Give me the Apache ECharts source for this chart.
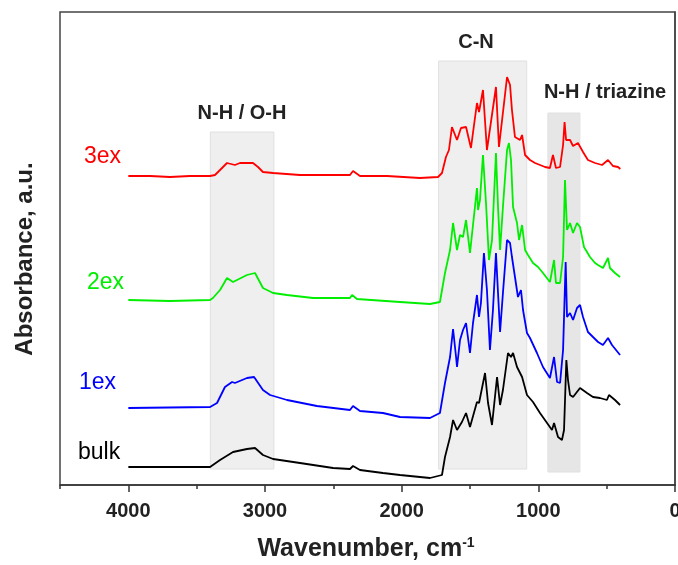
<!DOCTYPE html>
<html>
<head>
<meta charset="utf-8">
<script src="https://cdn.jsdelivr.net/npm/echarts@6/dist/echarts.min.js"></script>
<style>
  html, body { margin: 0; padding: 0; background: #fff; }
  #chart { width: 678px; height: 565px; }
</style>
</head>
<body>
<div id="chart"></div>
<script>
// FTIR spectra, stacked with vertical offsets: [wavenumber (cm-1), absorbance (a.u.)]
const bulk = [
  [4000,0.18],[3402,0.18],[3329,0.25],[3234,0.33],[3132,0.36],[3073,0.37],[3015,0.30],[2941,0.26],
  [2744,0.22],[2502,0.17],[2378,0.16],[2356,0.19],[2305,0.15],[2137,0.12],[2012,0.10],[1793,0.07],
  [1705,0.10],[1683,0.28],[1646,0.48],[1624,0.65],[1595,0.55],[1559,0.63],[1529,0.72],[1500,0.58],
  [1449,0.83],[1434,0.82],[1390,1.12],[1368,0.82],[1339,0.60],[1302,1.08],[1280,0.80],[1259,0.95],
  [1222,1.32],[1200,1.28],[1185,1.32],[1156,1.18],[1119,1.08],[1083,0.90],[1039,0.83],[988,0.72],
  [900,0.55],[885,0.62],[856,0.48],[827,0.45],[812,0.55],[795,1.25],[783,1.05],[768,0.90],
  [746,0.88],[695,0.97],[644,0.92],[600,0.88],[549,0.87],[498,0.85],[483,0.90],[439,0.85],[402,0.80]
];
const ex1 = [
  [4000,0.77],[3402,0.78],[3351,0.82],[3293,0.98],[3241,1.03],[3220,1.02],[3132,1.07],[3080,1.08],
  [3015,0.95],[2963,0.90],[2839,0.85],[2620,0.79],[2378,0.75],[2356,0.79],[2305,0.74],[2137,0.72],
  [2012,0.68],[1793,0.67],[1720,0.72],[1683,1.02],[1646,1.28],[1624,1.56],[1602,1.28],[1595,1.18],
  [1573,1.45],[1551,1.55],[1529,1.62],[1500,1.32],[1478,1.62],[1449,1.90],[1434,1.68],[1420,1.82],
  [1398,2.32],[1376,1.95],[1354,1.35],[1332,1.75],[1310,2.32],[1295,1.92],[1280,1.53],[1259,1.92],
  [1229,2.45],[1207,2.42],[1193,2.28],[1171,2.08],[1149,1.88],[1127,1.95],[1112,1.75],[1083,1.52],
  [1061,1.47],[1010,1.32],[966,1.18],[915,1.07],[885,1.28],[863,1.03],[841,1.02],[819,1.35],
  [800,2.23],[790,1.68],[768,1.72],[746,1.65],[717,1.77],[695,1.80],[673,1.68],[637,1.53],
  [600,1.48],[563,1.43],[527,1.40],[490,1.47],[461,1.40],[402,1.30]
];
const ex2 = [
  [4000,1.85],[3695,1.84],[3402,1.85],[3381,1.87],[3329,1.95],[3278,2.07],[3234,2.03],[3132,2.10],
  [3073,2.12],[3015,1.97],[2941,1.92],[2839,1.90],[2649,1.87],[2378,1.87],[2363,1.90],[2327,1.86],
  [2012,1.83],[1793,1.81],[1720,1.83],[1683,2.12],[1646,2.35],[1624,2.62],[1595,2.35],[1573,2.50],
  [1551,2.48],[1529,2.65],[1500,2.32],[1449,2.97],[1441,2.75],[1427,2.85],[1405,3.30],[1383,2.82],
  [1361,2.25],[1339,2.45],[1310,3.32],[1295,2.78],[1280,2.35],[1259,2.78],[1229,3.35],[1215,3.42],
  [1200,3.25],[1185,2.78],[1156,2.62],[1141,2.45],[1119,2.60],[1097,2.35],[1076,2.30],[1039,2.22],
  [1002,2.18],[966,2.12],[915,2.03],[885,2.25],[871,2.02],[841,2.02],[819,2.28],[805,3.05],
  [790,2.55],[768,2.62],[746,2.52],[717,2.62],[695,2.58],[666,2.38],[622,2.28],[585,2.22],
  [563,2.20],[527,2.17],[490,2.27],[476,2.17],[439,2.12],[402,2.08]
];
const ex3 = [
  [4000,3.09],[3840,3.09],[3695,3.08],[3549,3.09],[3402,3.09],[3366,3.10],[3329,3.15],[3278,3.22],
  [3220,3.20],[3183,3.22],[3088,3.22],[3051,3.18],[3015,3.13],[2941,3.12],[2744,3.10],[2378,3.10],
  [2356,3.14],[2305,3.09],[2107,3.09],[1866,3.07],[1734,3.08],[1705,3.12],[1676,3.28],[1654,3.35],
  [1632,3.58],[1595,3.45],[1566,3.57],[1529,3.58],[1493,3.37],[1449,3.82],[1434,3.73],[1405,3.95],
  [1376,3.35],[1310,3.98],[1288,3.38],[1229,4.08],[1207,4.00],[1193,3.75],[1171,3.48],[1134,3.45],
  [1119,3.50],[1097,3.30],[1061,3.25],[1024,3.22],[951,3.18],[915,3.17],[893,3.30],[871,3.17],
  [841,3.18],[819,3.40],[808,3.63],[797,3.45],[768,3.45],[746,3.39],[710,3.42],[673,3.33],
  [637,3.25],[585,3.22],[534,3.20],[490,3.25],[454,3.19],[417,3.18],[400,3.16]
];

const seriesNames = ['bulk', '1ex', '2ex', '3ex'];
const seriesColors = ['#000000', '#0000ff', '#00ee00', '#ff0000'];
const seriesData = [bulk, ex1, ex2, ex3];

// Shaded assignment bands: [from, to] in cm-1, [bottom, top] in a.u.
const bandNames = ['N-H / O-H', 'C-N', 'N-H / triazine'];
const bandRanges = [[3400, 2935], [1730, 1085], [930, 696]];
const bandHeights = [[0.16, 3.53], [0.16, 4.24], [0.13, 3.72]];
const bandFills = ['#efefef', '#efefef', '#e6e6e6'];

const majorTicks = [0, 1000, 2000, 3000, 4000];
const minorTicks = [500, 1500, 2500, 3500, 4500];

const FONT = '"Liberation Sans", Arial, Helvetica, sans-serif';

const chart = echarts.init(document.getElementById('chart'));

const lineSeries = seriesData.map((d, i) => ({
  name: seriesNames[i],
  type: 'line',
  data: d,
  showSymbol: false,
  symbol: 'none',
  z: 3,
  lineStyle: { color: seriesColors[i], width: 1.8 },
  animation: false
}));

const bandSeries = {
  type: 'line',
  data: [],
  z: 1,
  silent: true,
  markArea: {
    silent: true,
    data: bandRanges.map((r, i) => [
      { xAxis: r[0], yAxis: bandHeights[i][1], itemStyle: { color: bandFills[i], borderColor: '#e0e0e0', borderWidth: 1 } },
      { xAxis: r[1], yAxis: bandHeights[i][0] }
    ])
  }
};

const seriesLabelPos = { 'bulk': [78, 453], '1ex': [79, 383], '2ex': [87, 283], '3ex': [84, 157] };
const bandLabelPos = [[242, 113], [476, 42], [605, 92]];

const graphics = [];
seriesNames.forEach((n, i) => {
  const p = seriesLabelPos[n];
  graphics.push({
    type: 'text', x: p[0], y: p[1], z: 10,
    style: { text: n, fill: seriesColors[i], fontFamily: FONT, fontSize: 23, align: 'left', verticalAlign: 'middle' }
  });
});
bandNames.forEach((n, i) => {
  const p = bandLabelPos[i];
  graphics.push({
    type: 'text', x: p[0], y: p[1], z: 10,
    style: { text: n, fill: '#222', fontFamily: FONT, fontSize: 20, fontWeight: 'bold', align: 'center', verticalAlign: 'middle' }
  });
});
graphics.push({
  type: 'text', x: 366, y: 549, z: 10,
  style: {
    text: '{t|Wavenumber, cm}{s|-1}',
    align: 'center', verticalAlign: 'middle',
    rich: {
      t: { fontFamily: FONT, fontSize: 25, fontWeight: 'bold', fill: '#222' },
      s: { fontFamily: FONT, fontSize: 14, fontWeight: 'bold', fill: '#222', verticalAlign: 'top' }
    }
  }
});
graphics.push({
  type: 'text', x: 25, y: 259, rotation: Math.PI / 2, z: 10,
  style: { text: 'Absorbance, a.u.', fill: '#222', fontFamily: FONT, fontSize: 24, fontWeight: 'bold', align: 'center', verticalAlign: 'middle' }
});

chart.setOption({
  animation: false,
  backgroundColor: '#fff',
  grid: {
    left: 60, right: 3, top: 12, bottom: 80,
    outerBoundsMode: 'none', containLabel: false,
    show: true, borderColor: '#444', borderWidth: 1.5, backgroundColor: 'transparent'
  },
  xAxis: [
    {
      type: 'value', min: 0, max: 4500, inverse: true,
      axisLine: { show: true, lineStyle: { color: '#333', width: 1.5 } },
      axisTick: { show: true, customValues: majorTicks, length: 7, lineStyle: { color: '#333', width: 1.5 } },
      axisLabel: {
        show: true, customValues: majorTicks, margin: 16, color: '#222',
        fontFamily: FONT, fontSize: 20, fontWeight: 'bold', hideOverlap: false,
        formatter: v => String(v)
      },
      splitLine: { show: false }
    },
    {
      type: 'value', min: 0, max: 4500, inverse: true, position: 'bottom',
      axisLine: { show: false },
      axisTick: { show: true, customValues: minorTicks, length: 4, lineStyle: { color: '#333', width: 1.5 } },
      axisLabel: { show: false },
      splitLine: { show: false }
    }
  ],
  yAxis: {
    type: 'value', min: 0, max: 4.73,
    axisLine: { show: true, lineStyle: { color: '#444', width: 1.5 } },
    axisTick: { show: false }, axisLabel: { show: false }, splitLine: { show: false }
  },
  series: [bandSeries].concat(lineSeries),
  graphic: graphics
});
</script>
</body>
</html>
